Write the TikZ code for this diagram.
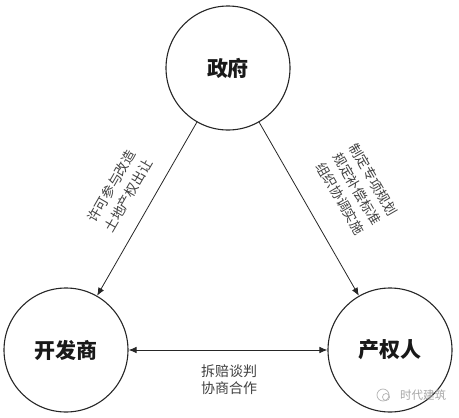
\documentclass[tikz,border=0pt]{standalone}
\usepackage{fontspec}
\newfontfamily\cjk{Noto Sans CJK SC}
\usetikzlibrary{arrows.meta}
\begin{document}
\begin{tikzpicture}[x=1pt,y=-1pt,
  actor/.style={circle,draw=black!85,line width=1.1pt,minimum size=124pt,inner sep=0pt,font=\cjk\bfseries\fontsize{21}{24}\selectfont,text=black!90},
  arr/.style={draw=black!85,line width=0.8pt,-{Latex[length=8pt,width=6.5pt]}},
  lbl/.style={font=\cjk\fontsize{14}{17}\selectfont,text=black!75,align=center,inner sep=0pt},
  rlbl/.style={lbl,font=\cjk\fontsize{13.5}{19}\selectfont}]
\useasboundingbox (0,0) rectangle (459,418);
\node[actor] (gov) at (228,68) {政府};
\node[actor] (dev) at (66,350) {开发商};
\node[actor] (own) at (390,350) {产权人};
\draw[arr] (gov) -- (dev);
\draw[arr] (gov) -- (own);
\draw[arr,{Latex[length=8pt,width=6.5pt]}-{Latex[length=8pt,width=6.5pt]}] (dev) -- (own);
\node[rlbl,rotate=60] (l1) at (120,191) {许可参与改造\\土地产权出让};
\node[rlbl,rotate=-60] (l2) at (357,189) {制定专项规划\\规定补偿标准\\组织协调实施};
\node[lbl] (l3) at (229,380) {拆赔谈判\\协商合作};
\node[font=\cjk\fontsize{11.5}{13}\selectfont,text=black!35,inner sep=0pt] (wm) at (423,395) {时代建筑};
\draw[black!30,line width=0.7pt] (383,395) circle[radius=6pt];
\draw[black!30,line width=0.7pt] (386,397) circle[radius=3.5pt];
\end{tikzpicture}
\end{document}
